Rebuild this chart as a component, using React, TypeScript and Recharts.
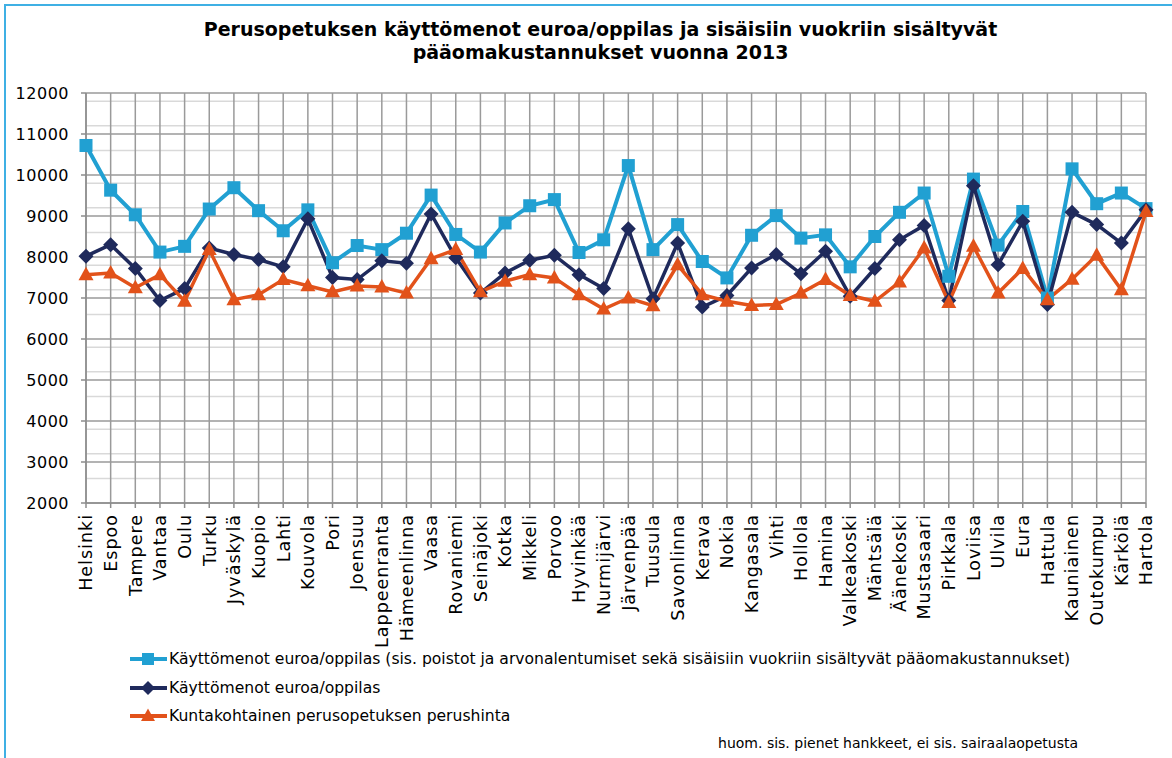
import React from 'react';
import { LineChart, Line, XAxis, YAxis, CartesianGrid, Legend } from 'recharts';

const municipalities = [
  'Helsinki', 'Espoo', 'Tampere', 'Vantaa', 'Oulu', 'Turku', 'Jyväskylä', 'Kuopio', 'Lahti', 'Kouvola',
  'Pori', 'Joensuu', 'Lappeenranta', 'Hämeenlinna', 'Vaasa', 'Rovaniemi', 'Seinäjoki', 'Kotka', 'Mikkeli', 'Porvoo',
  'Hyvinkää', 'Nurmijärvi', 'Järvenpää', 'Tuusula', 'Savonlinna', 'Kerava', 'Nokia', 'Kangasala', 'Vihti', 'Hollola',
  'Hamina', 'Valkeakoski', 'Mäntsälä', 'Äänekoski', 'Mustasaari', 'Pirkkala', 'Loviisa', 'Ulvila', 'Eura', 'Hattula',
  'Kauniainen', 'Outokumpu', 'Kärkölä', 'Hartola',
];

// Käyttömenot euroa/oppilas (sis. poistot ja arvonalentumiset sekä sisäisiin vuokriin sisältyvät pääomakustannukset)
const kayttomenotSis = [
  10720, 9630, 9030, 8120, 8260, 9170, 9690, 9130, 8640, 9150,
  7860, 8280, 8180, 8580, 9510, 8550, 8120, 8830, 9250, 9400,
  8110, 8420, 10230, 8180, 8790, 7890, 7490, 8530, 9010, 8460,
  8540, 7760, 8500, 9090, 9560, 7530, 9900, 8290, 9110, 7000,
  10150, 9300, 9560, 9180,
];

// Käyttömenot euroa/oppilas
const kayttomenot = [
  8020, 8300, 7720, 6940, 7230, 8220, 8060, 7940, 7760, 8930,
  7500, 7450, 7910, 7850, 9050, 7980, 7120, 7610, 7920, 8040,
  7570, 7230, 8690, 6980, 8340, 6780, 7060, 7730, 8060, 7590,
  8140, 7040, 7720, 8420, 8770, 6940, 9740, 7810, 8870, 6840,
  9090, 8790, 8340, 9150,
];

// Kuntakohtainen perusopetuksen perushinta
const perushinta = [
  7570, 7610, 7250, 7570, 6920, 8180, 6960, 7080, 7450, 7300,
  7150, 7290, 7270, 7120, 7960, 8180, 7150, 7410, 7570, 7490,
  7080, 6730, 7000, 6810, 7810, 7080, 6920, 6820, 6840, 7120,
  7450, 7060, 6920, 7390, 8220, 6890, 8260, 7120, 7720, 6960,
  7460, 8040, 7200, 9110,
];

const yTicks = [2000, 3000, 4000, 5000, 6000, 7000, 8000, 9000, 10000, 11000, 12000];
const minorStep = 200;

const seriesNames = [
  'Käyttömenot euroa/oppilas (sis. poistot ja arvonalentumiset sekä sisäisiin vuokriin sisältyvät pääomakustannukset)',
  'Käyttömenot euroa/oppilas',
  'Kuntakohtainen perusopetuksen perushinta',
];

const titleLines = [
  'Perusopetuksen käyttömenot euroa/oppilas ja sisäisiin vuokriin sisältyvät',
  'pääomakustannukset vuonna 2013',
];
const footnote = 'huom. sis. pienet hankkeet, ei sis. sairaalaopetusta';

const LIGHT = '#21a0d2';
const NAVY = '#1f2a5c';
const ORANGE = '#e2521a';
const FONT = '"DejaVu Sans", Verdana, sans-serif';

const data = municipalities.map((name, i) => ({
  name,
  a: kayttomenotSis[i],
  b: kayttomenot[i],
  c: perushinta[i],
}));

const minorTicks: number[] = [];
for (let v = yTicks[0]; v <= yTicks[yTicks.length - 1]; v += minorStep) {
  if (!yTicks.includes(v)) minorTicks.push(v);
}

const SquareDot = (props: any) => {
  const { cx, cy, index } = props;
  if (cx == null || cy == null) return <g key={`s${index}`} />;
  return <rect key={`s${index}`} x={cx - 6.5} y={cy - 6.5} width={13} height={13} fill={LIGHT} />;
};
const DiamondDot = (props: any) => {
  const { cx, cy, index } = props;
  if (cx == null || cy == null) return <g key={`d${index}`} />;
  const r = 7.5;
  return (
    <polygon
      key={`d${index}`}
      points={`${cx},${cy - r} ${cx + r},${cy} ${cx},${cy + r} ${cx - r},${cy}`}
      fill={NAVY}
    />
  );
};
const TriangleDot = (props: any) => {
  const { cx, cy, index } = props;
  if (cx == null || cy == null) return <g key={`t${index}`} />;
  return (
    <polygon
      key={`t${index}`}
      points={`${cx},${cy - 8} ${cx + 7.5},${cy + 5.5} ${cx - 7.5},${cy + 5.5}`}
      fill={ORANGE}
    />
  );
};

const XTick = (props: any) => {
  const { x, y, payload } = props;
  return (
    <text
      x={x}
      y={y}
      dy="0.36em"
      transform={`rotate(-90, ${x}, ${y})`}
      textAnchor="end"
      fontSize={17.5}
      fill="#000"
      style={{ letterSpacing: '1px', fontFamily: FONT }}
    >
      {payload.value}
    </text>
  );
};

const YTick = (props: any) => {
  const { x, y, payload } = props;
  return (
    <text
      x={x}
      y={y}
      dy="0.36em"
      textAnchor="end"
      fontSize={16}
      fill="#000"
      style={{ letterSpacing: '0.5px', fontFamily: FONT }}
    >
      {payload.value}
    </text>
  );
};

const legendIcons = [
  (color: string) => <rect x={12} y={4} width={12} height={12} fill={color} />,
  (color: string) => <polygon points="18,3 25,10 18,17 11,10" fill={color} />,
  (color: string) => <polygon points="18,2.5 25,15 11,15" fill={color} />,
];
const legendColors = [LIGHT, NAVY, ORANGE];

const LegendContent = () => (
  <div style={{ fontFamily: FONT, fontSize: 15.6, color: '#000' }}>
    {seriesNames.map((name, i) => (
      <div key={name} style={{ display: 'flex', alignItems: 'center', height: 28.6, whiteSpace: 'nowrap' }}>
        <svg width={37} height={20} style={{ marginRight: 2 }}>
          <line x1={0} y1={10} x2={37} y2={10} stroke={legendColors[i]} strokeWidth={4} />
          {legendIcons[i](legendColors[i])}
        </svg>
        <span>{name}</span>
      </div>
    ))}
  </div>
);

export default function App() {
  return (
    <div style={{ position: 'absolute', left: 0, top: 0, width: 1172, height: 758, background: '#fff', overflow: 'hidden' }}>
      <div
        style={{
          position: 'absolute',
          left: 4,
          top: 4,
          width: 1200,
          height: 800,
          borderLeft: '2px solid #3fb0e4',
          borderTop: '2px solid #3fb0e4',
        }}
      />
      <div
        style={{
          position: 'absolute',
          left: 0,
          width: 1201,
          top: 18,
          textAlign: 'center',
          fontFamily: FONT,
          fontWeight: 'bold',
          fontSize: 19,
          lineHeight: '23px',
          color: '#000',
        }}
      >
        {titleLines.map((t) => (
          <div key={t}>{t}</div>
        ))}
      </div>
      <LineChart
        width={1172}
        height={758}
        data={data}
        margin={{ top: 93, right: 26, bottom: 0, left: 0 }}
        style={{ position: 'absolute', left: 0, top: 0 }}
      >
        <CartesianGrid horizontalValues={minorTicks} vertical={false} stroke="#d9d9d9" strokeWidth={1.5} />
        <CartesianGrid horizontalValues={yTicks} vertical={true} stroke="#9a9a9a" strokeWidth={1.5} />
        <XAxis
          dataKey="name"
          interval={0}
          height={255}
          tickSize={5}
          tickMargin={6}
          tick={<XTick />}
          axisLine={{ stroke: '#8c8c8c', strokeWidth: 1.5 }}
          tickLine={{ stroke: '#8c8c8c', strokeWidth: 1.5 }}
        />
        <YAxis
          domain={[2000, 12000]}
          ticks={yTicks}
          width={86}
          tickSize={5}
          tickMargin={12}
          tick={<YTick />}
          axisLine={{ stroke: '#8c8c8c', strokeWidth: 1.5 }}
          tickLine={{ stroke: '#8c8c8c', strokeWidth: 1.5 }}
          allowDataOverflow
        />
        <Legend
          layout="vertical"
          align="center"
          verticalAlign="middle"
          content={<LegendContent />}
          wrapperStyle={{ left: 130, top: 645, width: 1000, height: 90 }}
        />
        <Line
          type="linear"
          dataKey="a"
          name={seriesNames[0]}
          stroke={LIGHT}
          strokeWidth={4}
          dot={SquareDot}
          activeDot={false}
          isAnimationActive={false}
        />
        <Line
          type="linear"
          dataKey="b"
          name={seriesNames[1]}
          stroke={NAVY}
          strokeWidth={3.5}
          dot={DiamondDot}
          activeDot={false}
          isAnimationActive={false}
        />
        <Line
          type="linear"
          dataKey="c"
          name={seriesNames[2]}
          stroke={ORANGE}
          strokeWidth={3.5}
          dot={TriangleDot}
          activeDot={false}
          isAnimationActive={false}
        />
      </LineChart>
      <div
        style={{
          position: 'absolute',
          right: 1172 - 1078,
          top: 735,
          fontFamily: FONT,
          fontSize: 14,
          color: '#000',
          whiteSpace: 'nowrap',
        }}
      >
        {footnote}
      </div>
    </div>
  );
}
